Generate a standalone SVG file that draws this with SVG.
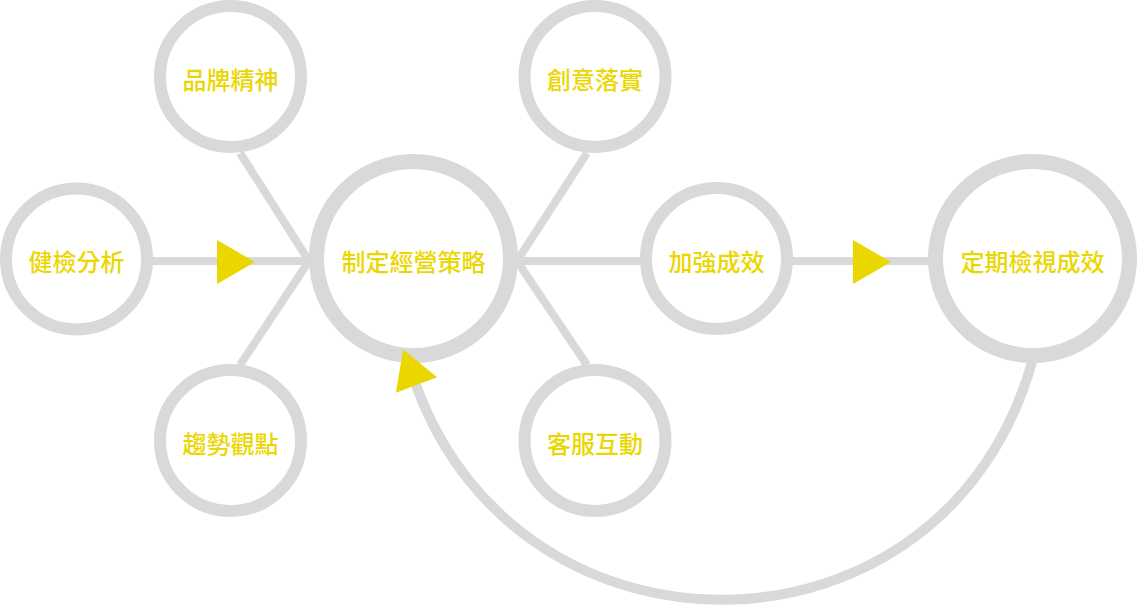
<svg xmlns="http://www.w3.org/2000/svg" xmlns:xlink="http://www.w3.org/1999/xlink" width="1137" height="605" viewBox="0 0 1137 605">
<style>
.ring{fill:#fff;stroke:#d9d9d9}
.small{stroke-width:12}
.big{stroke-width:15}
.conn{stroke:#d9d9d9;stroke-width:8;fill:none}
.curve{stroke:#d9d9d9;stroke-width:10;fill:none}
.arrow{fill:#ebd700}
.lbl{font-family:"Noto Sans CJK TC","Noto Sans CJK SC",sans-serif;font-size:24px;font-weight:500;fill:#ebd700;text-anchor:middle;dominant-baseline:central}
</style>
<defs>
<path id="tri" d="M0,-22 L38,0 L0,22 Z"/>
</defs>
<g id="connectors">
<line class="conn" x1="150" y1="261" x2="310" y2="261"/>
<line class="conn" x1="309" y1="261" x2="240" y2="153"/>
<line class="conn" x1="309" y1="261" x2="240" y2="365"/>
<line class="conn" x1="517" y1="261" x2="587" y2="153"/>
<line class="conn" x1="517" y1="261" x2="587" y2="365"/>
<line class="conn" x1="517" y1="261" x2="642" y2="261"/>
<line class="conn" x1="792" y1="261" x2="930" y2="261"/>
<path class="curve" d="M1032,362 C945,672 522,678 416,385"/>
</g>
<g id="n-health">
<circle class="ring small" cx="76.5" cy="259" r="70.5"/>
<text class="lbl" x="76.5" y="260.5">健檢分析</text>
</g>
<g id="n-brand">
<circle class="ring small" cx="230.5" cy="76.5" r="70.5"/>
<text class="lbl" x="230.5" y="78">品牌精神</text>
</g>
<g id="n-trend">
<circle class="ring small" cx="230.5" cy="440.5" r="70.5"/>
<text class="lbl" x="230.5" y="442">趨勢觀點</text>
</g>
<g id="n-strategy">
<circle class="ring big" cx="413.5" cy="258.5" r="97"/>
<text class="lbl" x="413.5" y="260">制定經營策略</text>
</g>
<g id="n-creative">
<circle class="ring small" cx="595" cy="76.5" r="70.5"/>
<text class="lbl" x="595" y="78">創意落實</text>
</g>
<g id="n-service">
<circle class="ring small" cx="595" cy="440.5" r="70.5"/>
<text class="lbl" x="595" y="442">客服互動</text>
</g>
<g id="n-enhance">
<circle class="ring small" cx="716.5" cy="258.5" r="70.5"/>
<text class="lbl" x="716.5" y="260">加強成效</text>
</g>
<g id="n-review">
<circle class="ring big" cx="1032.5" cy="258.5" r="97"/>
<text class="lbl" x="1032.5" y="260">定期檢視成效</text>
</g>
<g id="arrowheads">
<use class="arrow" xlink:href="#tri" href="#tri" transform="translate(217,262)"/>
<use class="arrow" xlink:href="#tri" href="#tri" transform="translate(853,262)"/>
<use class="arrow" xlink:href="#tri" href="#tri" transform="translate(416.5,385) rotate(-110.6)"/>
</g>
</svg>
